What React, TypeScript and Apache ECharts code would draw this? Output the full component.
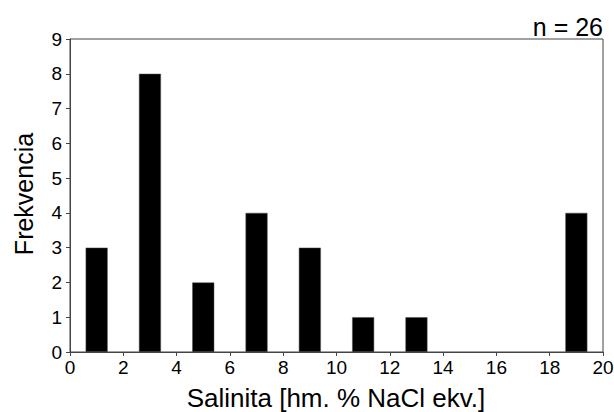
import React, { useEffect, useRef } from "react";
import * as echarts from "echarts";

const binCenters = [1, 3, 5, 7, 9, 11, 13, 15, 17, 19];
const frequencies = [3, 8, 2, 4, 3, 1, 1, 0, 0, 4];
const xTitle = "Salinita [hm. % NaCl ekv.]";
const yTitle = "Frekvencia";
const nLabel = "n = 26";

export default function App() {
  const ref = useRef<HTMLDivElement>(null);
  useEffect(() => {
    const chart = echarts.init(ref.current!, null, { renderer: "svg" });
    const font = "Liberation Sans, Arial, sans-serif";
    chart.setOption({
      animation: false,
      backgroundColor: "#fff",
      grid: {
        left: 70,
        right: 11,
        top: 39,
        bottom: 60,
        outerBoundsMode: "none",
        containLabel: false,
        show: true,
        borderColor: "#444",
        borderWidth: 1,
        backgroundColor: "transparent",
      },
      xAxis: {
        type: "value",
        min: 0,
        max: 20,
        interval: 2,
        axisLine: { show: true, lineStyle: { color: "#444", width: 1 } },
        axisTick: { show: true, length: 4, inside: false, lineStyle: { color: "#444" } },
        axisLabel: { fontSize: 19, color: "#000", fontFamily: font, margin: 6 },
        splitLine: { show: false },
      },
      yAxis: {
        type: "value",
        min: 0,
        max: 9,
        interval: 1,
        axisLine: { show: true, lineStyle: { color: "#444", width: 1 } },
        axisTick: { show: true, length: 4, inside: false, lineStyle: { color: "#444" } },
        axisLabel: { fontSize: 19, color: "#000", fontFamily: font, margin: 8 },
        splitLine: { show: false },
      },
      graphic: [
        {
          type: "text",
          right: 11,
          top: 14,
          style: { text: nLabel, fontSize: 25, fill: "#000", fontFamily: font },
        },
        {
          type: "text",
          x: 336,
          y: 398,
          style: {
            text: xTitle,
            fontSize: 26,
            fill: "#000",
            fontFamily: font,
            align: "center",
            verticalAlign: "middle",
          },
        },
        {
          type: "text",
          x: 24,
          y: 194,
          rotation: Math.PI / 2,
          style: {
            text: yTitle,
            fontSize: 25,
            fill: "#000",
            fontFamily: font,
            align: "center",
            verticalAlign: "middle",
          },
        },
      ],
      series: [
        {
          type: "bar",
          data: binCenters
            .map((c, i) => [c, frequencies[i]])
            .filter((d) => d[1] > 0),
          barWidth: 22,
          itemStyle: { color: "#000", borderColor: "#555", borderWidth: 0.5 },
        },
      ],
    });
    return () => chart.dispose();
  }, []);
  return (
    <div
      ref={ref}
      style={{ position: "fixed", left: 0, top: 0, width: 614, height: 412 }}
    />
  );
}
